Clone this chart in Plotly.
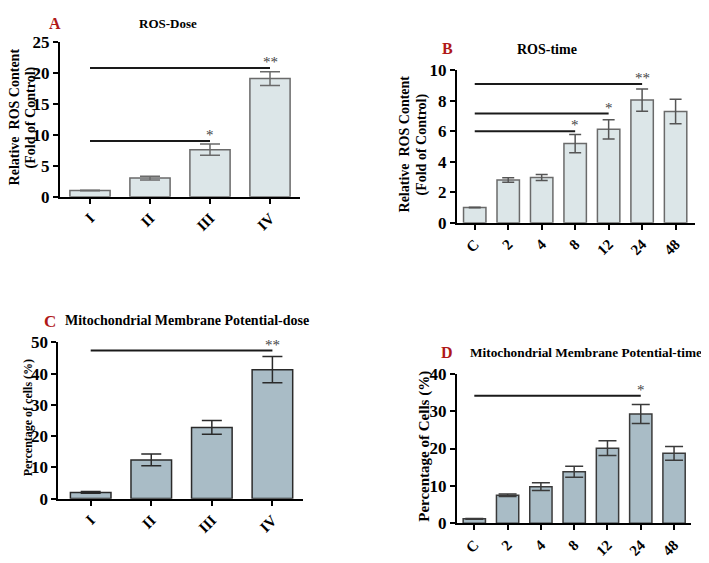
import plotly.graph_objects as go

# ---------------- data ----------------
dose_cats = ["I", "II", "III", "IV"]
time_cats = ["C", "2", "4", "8", "12", "24", "48"]

ros_dose = [1.0, 3.0, 7.6, 19.1]
ros_dose_err = [0.05, 0.3, 0.9, 1.1]

ros_time = [1.0, 2.8, 2.97, 5.2, 6.13, 8.05, 7.3]
ros_time_err = [0.02, 0.15, 0.2, 0.6, 0.63, 0.73, 0.8]

mmp_dose = [2.0, 12.4, 22.8, 41.3]
mmp_dose_err = [0.3, 1.85, 2.2, 4.2]

mmp_time = [1.2, 7.5, 9.8, 13.8, 20.1, 29.2, 18.7]
mmp_time_err = [0.1, 0.35, 1.05, 1.45, 2.0, 2.55, 1.85]

# significance brackets: (from category, to category, y level, label)
sig_a = [("I", "IV", 20.8, "**"), ("I", "III", 9.0, "*")]
sig_b = [("C", "24", 9.1, "**"), ("C", "12", 7.17, "*"), ("C", "8", 6.0, "*")]
sig_c = [("I", "IV", 47.4, "**")]
sig_d = [("C", "24", 34.1, "*")]

FONT = "Liberation Serif, Times New Roman, serif"
OFF = 8  # the page places the figure 8px from the top-left corner
W, H = 709 - OFF, 563 - OFF

def px(x):
    return (x - OFF) / W

def py(y):
    return 1 - (y - OFF) / H

fig = go.Figure()

panels = [
    (dose_cats, ros_dose, ros_dose_err, "#dce6e8", "#6a6a6a", "#6a6a6a", 10, "", (60, 300), (34, 194), [0, 25], 5, [-0.5, 3.5], sig_a),
    (time_cats, ros_time, ros_time_err, "#dce6e8", "#6a6a6a", "#555555", 6, "2", (457, 695), (63.3, 221), [0, 10], 2, [-0.53, 6.58], sig_b),
    (dose_cats, mmp_dose, mmp_dose_err, "#a9bcc6", "#2a2a2a", "#2a2a2a", 10, "3", (58.3, 303.3), (345, 506.7), [0, 50], 10, [-0.535, 3.51], sig_c),
    (time_cats, mmp_time, mmp_time_err, "#a9bcc6", "#3a3a3a", "#3a3a3a", 9, "4", (457, 690.7), (377.3, 532.3), [0, 40], 10, [-0.52, 6.5], sig_d),
]

for cats, vals, errs, fill, lcol, ecol, capw, suf, xd, yd, yr, dt, xr, sigs in panels:
    xa = "x" + suf
    ya = "y" + suf
    pos = list(range(len(cats)))
    fig.add_trace(go.Bar(
        x=pos, y=vals, xaxis=xa, yaxis=ya, width=0.67,
        marker=dict(color=fill, line=dict(color=lcol, width=1.5)),
        error_y=dict(type="data", array=errs, visible=True, color=ecol, thickness=1.5, width=capw),
        showlegend=False,
    ))
    xkey = "xaxis" + suf
    ykey = "yaxis" + suf
    fig.update_layout(**{
        xkey: dict(domain=[px(xd[0]), px(xd[1])], anchor=ya, range=xr,
                   tickmode="array", tickvals=pos, ticktext=cats,
                   showline=True, linecolor="black", linewidth=2, ticks="outside", ticklen=5,
                   tickwidth=2, tickcolor="black", tickangle=-45, showgrid=False, zeroline=False,
                   tickfont=dict(family=FONT, size=15, color="black", weight="bold")),
        ykey: dict(domain=[py(yd[1]), py(yd[0])], anchor=xa, range=yr, dtick=dt,
                   showline=True, linecolor="black", linewidth=2, ticks="outside", ticklen=5,
                   tickwidth=2, tickcolor="black", showgrid=False, zeroline=False,
                   tickfont=dict(family=FONT, size=17, color="black", weight="bold")),
    })
    for c0, c1, yv, lab in sigs:
        i0 = cats.index(c0)
        i1 = cats.index(c1)
        fig.add_shape(type="line", xref=xa, yref=ya, x0=i0, x1=i1, y0=yv, y1=yv,
                      line=dict(color="#1a1a1a", width=2))
        fig.add_annotation(xref=xa, yref=ya, x=i1, y=yv, text=lab, showarrow=False,
                           yanchor="bottom", yshift=-4,
                           font=dict(family=FONT, size=15, color="#444444"))

def ann(x, y, text, size, color="black", angle=0, xanchor="center"):
    fig.add_annotation(xref="paper", yref="paper", x=px(x), y=py(y), text=text,
                       showarrow=False, textangle=angle, xanchor=xanchor, yanchor="middle",
                       borderpad=0,
                       font=dict(family=FONT, size=size, color=color, weight="bold"))

RED = "#b01818"
ann(55, 15, "A", 16, RED)
ann(168, 15, "ROS-Dose", 13)
ann(447, 41, "B", 16, RED)
ann(547, 42, "ROS-time", 14)
ann(50, 323, "C", 17, RED)
ann(64, 322, "Mitochondrial Membrane Potential-dose", 14, xanchor="left")
ann(447, 355, "D", 16, RED)
ann(469, 355, "Mitochondrial Membrane Potential-time", 13.3, xanchor="left")

# y axis titles (one annotation per line)
ann(14, 112, "Relative  ROS Content", 14, angle=-90)
ann(31, 112, "(Fold of Control)", 14, angle=-90)
ann(404, 140, "Relative  ROS Content", 14, angle=-90)
ann(422, 140, "(Fold of Control)", 14, angle=-90)
ann(27.5, 423, "Percentage of cells (%)", 12, angle=-90)
ann(425, 453, "Percentage of Cells (%)", 15, angle=-90)

fig.update_layout(
    width=W, height=H, margin=dict(l=0, r=0, t=0, b=0),
    paper_bgcolor="white", plot_bgcolor="white",
    font=dict(family=FONT, color="black"),
)

fig.write_html("out.html")
